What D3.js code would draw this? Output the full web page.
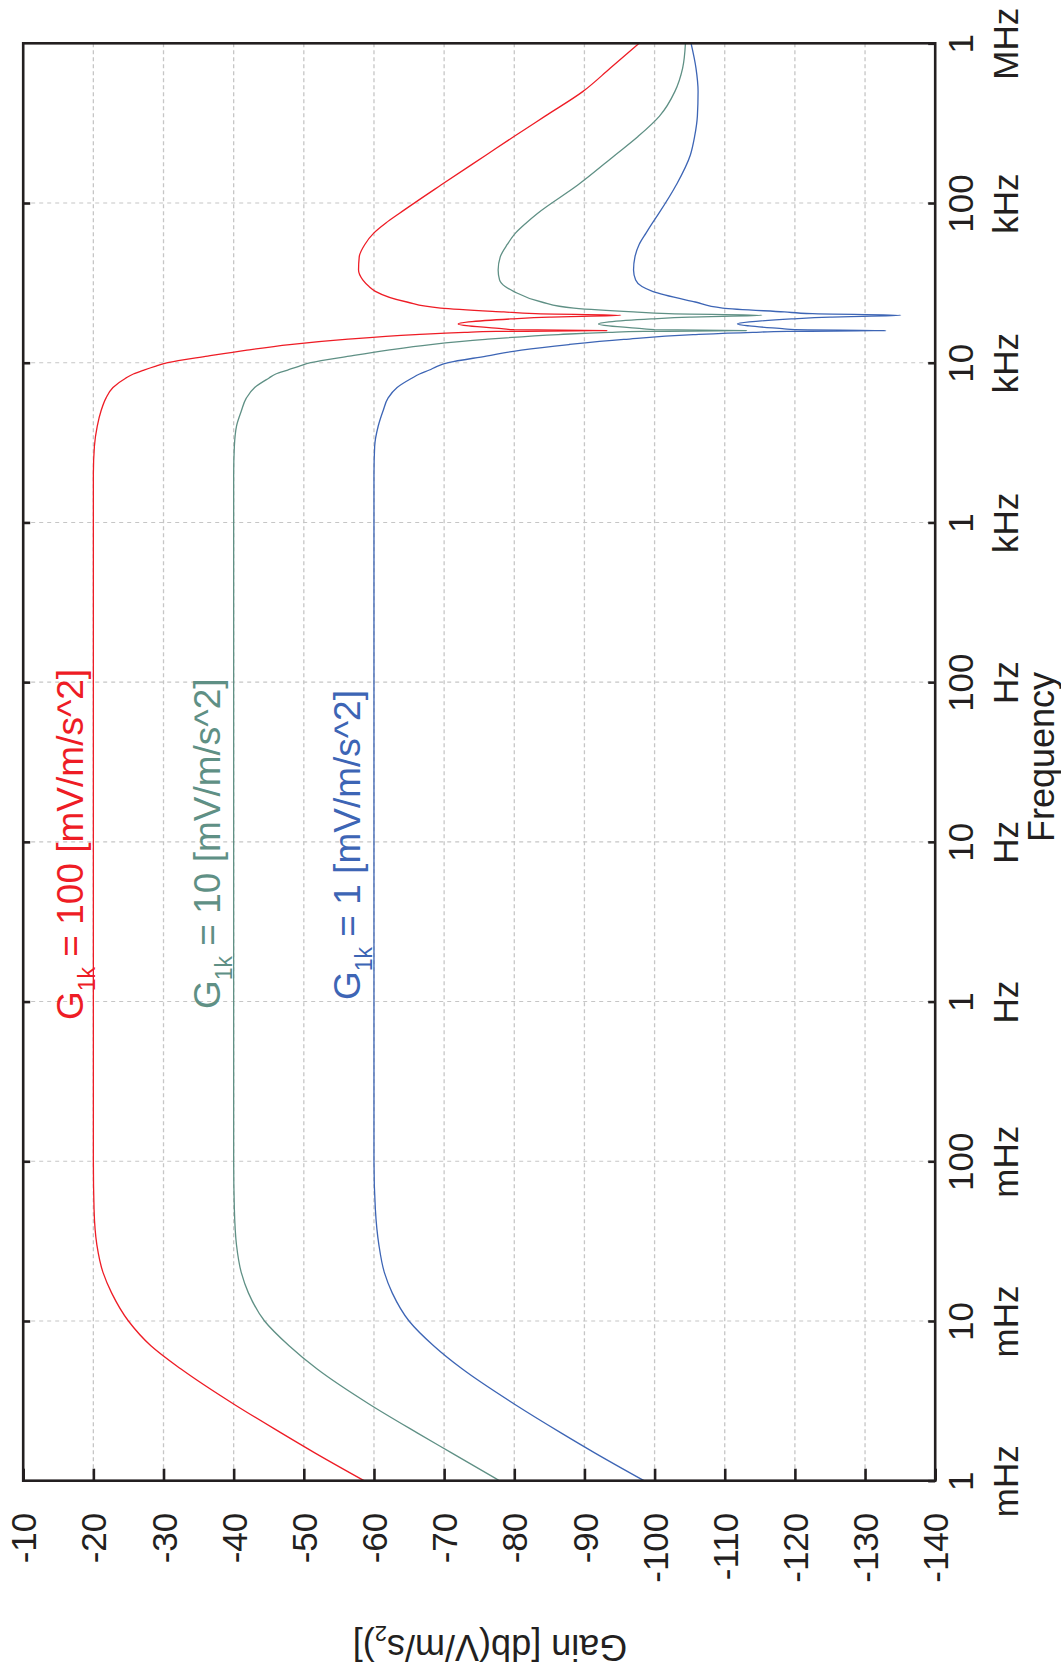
<!DOCTYPE html>
<html>
<head>
<meta charset="utf-8">
<script src="https://cdn.jsdelivr.net/npm/d3@7"></script>
<style>
body { margin: 0; background: #fff; }
svg { display: block; font-family: "Liberation Sans", Arial, Helvetica, sans-serif; }
</style>
</head>
<body>
<svg id="chart" width="1061" height="1669"></svg>
<script>
// frequency samples (Hz), shared by the three curves
const freqHz = [0.001, 0.0015, 0.002, 0.003, 0.005, 0.007, 0.01, 0.015, 0.02, 0.03, 0.05, 0.1,
    1, 10, 100, 1000, 2000, 3000, 4000, 5000, 6000, 7000, 8000, 8500, 9000, 9500, 10000,
    11000, 12000, 13000, 14000, 15000, 15500, 15700, 15900, 16100, 16300, 17000, 17500, 18000,
    18800, 19300, 19800, 20300, 20800, 22000, 24000, 28000, 30000, 33000, 38000, 46000, 55000,
    65000, 75000, 86000, 130000, 200000, 260000, 350000, 500000, 700000, 1000000];

// gain in dB(V/m/s^2)
const gain100 = [-58.6, -51.5, -46.7, -40.1, -32.5, -28.2, -25.0, -22.6, -21.4, -20.5, -20.1, -20,
    -20, -20, -20, -20, -20.0, -20.15, -20.55, -21.1, -21.8, -22.8, -24.6, -25.7, -27.2, -28.8, -30.6,
    -36.3, -41.9, -48.0, -55.9, -65.9, -72.9, -77.4, -93.2, -80, -78.5, -73.5, -72.0, -73.5,
    -79.5, -85, -95.2, -83, -78.5, -69.5, -64.7, -60.2, -59.3, -58.4, -57.8, -57.9, -58.7,
    -60.0, -61.7, -63.6, -69.6, -76.0, -79.9, -84.4, -89.8, -93.7, -97.8];
const gain10 = [-77.9, -71.0, -66.1, -59.4, -51.9, -47.9, -44.4, -42.1, -41.1, -40.4, -40.1, -40,
    -40, -40, -40, -40, -40.0, -40.1, -40.4, -41.1, -41.8, -43.0, -45.0, -46.0, -47.7, -49.3, -51.0,
    -56.5, -62.0, -68.1, -75.9, -86.3, -93.5, -98.5, -113.1, -100, -98.5, -93.5, -92.0, -93.5,
    -99.5, -105, -115.3, -102, -97, -88.5, -83.9, -79.9, -78.7, -77.9, -77.7, -78.0, -79.0,
    -80.2, -81.7, -83.3, -89.1, -94.4, -97.6, -100.7, -102.9, -104.0, -104.4];
const gain1 = [-98.5, -91.4, -86.6, -80.1, -72.6, -68.5, -65.0, -62.6, -61.5, -60.7, -60.2, -60,
    -60, -60, -60, -60, -60.0, -60.1, -60.6, -61.3, -62.0, -63.3, -65.4, -66.5, -67.9, -69.0, -70.6,
    -76, -81, -87.8, -95.6, -105.5, -114, -119, -133.0, -120, -118.5, -113.5, -111.8, -113.5,
    -119.5, -125, -135.1, -122.5, -118.5, -109.7, -105.8, -99.7, -98.2, -97.3, -97.0, -97.2, -97.8,
    -98.8, -99.7, -100.6, -103.1, -105.1, -105.7, -106.1, -106.2, -105.9, -105.2];

const seriesNames = ["100", "10", "1"];
const seriesColors = ["#ee1c25", "#5f9085", "#3d65b5"];

const gainTicks = [-10, -20, -30, -40, -50, -60, -70, -80, -90, -100, -110, -120, -130, -140];
const freqTicks = [1e-3, 1e-2, 1e-1, 1, 10, 100, 1e3, 1e4, 1e5, 1e6];
const freqTickNums = ["1", "10", "100", "1", "10", "100", "1", "10", "100", "1"];
const freqTickUnits = ["mHz", "mHz", "mHz", "Hz", "Hz", "Hz", "kHz", "kHz", "kHz", "MHz"];

const ink = "#231f20";
const plotLeft = 23.2, plotRight = 935.2, plotTop = 43.3, plotBottom = 1480.7;

const svg = d3.select("#chart");

// the figure is turned a quarter turn: gain runs across, frequency runs up
const x = d3.scaleLinear().domain([-10, -140]).range([plotLeft, plotRight]);
const y = d3.scaleLog().domain([1e-3, 1e6]).range([plotBottom, plotTop]);

// grid
svg.append("g")
    .selectAll("line")
    .data(gainTicks.slice(1, -1))
    .join("line")
    .attr("x1", d => x(d)).attr("x2", d => x(d))
    .attr("y1", plotTop).attr("y2", plotBottom)
    .attr("stroke", "#c6c6c6")
    .attr("stroke-width", 1.3)
    .attr("stroke-dasharray", "4,3");
svg.append("g")
    .selectAll("line")
    .data(freqTicks.slice(1, -1))
    .join("line")
    .attr("x1", plotLeft).attr("x2", plotRight)
    .attr("y1", d => y(d)).attr("y2", d => y(d))
    .attr("stroke", "#c6c6c6")
    .attr("stroke-width", 1.1)
    .attr("stroke-dasharray", "4,4");

// curves
const line = d3.line()
    .x(d => x(d[1]))
    .y(d => y(d[0]))
    .curve(d3.curveMonotoneY);

[gain100, gain10, gain1].forEach((g, k) => {
    svg.append("path")
        .datum(freqHz.map((f, i) => [f, g[i]]))
        .attr("fill", "none")
        .attr("stroke", seriesColors[k])
        .attr("stroke-width", 1.3)
        .attr("d", line);
});

// frame
svg.append("rect")
    .attr("x", plotLeft).attr("y", plotTop)
    .attr("width", plotRight - plotLeft).attr("height", plotBottom - plotTop)
    .attr("fill", "none")
    .attr("stroke", ink)
    .attr("stroke-width", 2.6);

// gain axis along the bottom
const gAxis = svg.append("g")
    .attr("transform", "translate(0," + plotBottom + ")")
    .call(d3.axisBottom(x).tickValues(gainTicks).tickSizeInner(-12).tickSizeOuter(0)
        .tickFormat(d => String(d)));
gAxis.select(".domain").remove();
gAxis.attr("font-family", null).attr("font-size", 35);
gAxis.selectAll(".tick line").attr("stroke", ink).attr("stroke-width", 2.6);
gAxis.selectAll(".tick text")
    .attr("fill", ink)
    .attr("x", 0).attr("y", 0)
    .attr("dy", "0.36em")
    .attr("text-anchor", "end")
    .attr("transform", "translate(0,32) rotate(-90)");

svg.append("text")
    .attr("transform", "translate(490,1635) rotate(180)")
    .attr("text-anchor", "middle")
    .attr("font-size", 36)
    .attr("fill", ink)
    .call(t => {
        t.append("tspan").text("Gain [db(V/m/s");
        t.append("tspan").attr("font-size", 22).attr("dy", 9).text("2");
        t.append("tspan").attr("dy", -9).text(")]");
    });

// frequency axis on the right, plain ticks on the left
const fAxis = svg.append("g")
    .attr("transform", "translate(" + plotRight + ",0)")
    .call(d3.axisRight(y).tickValues(freqTicks).tickSizeInner(-7).tickSizeOuter(0).tickFormat(""));
fAxis.select(".domain").remove();
fAxis.selectAll(".tick line").attr("stroke", ink).attr("stroke-width", 2.6);
fAxis.selectAll(".tick text").remove();
fAxis.attr("font-family", null).attr("font-size", 35);
fAxis.selectAll(".tick").each(function(d, i) {
    const t = d3.select(this);
    t.append("text")
        .attr("transform", "translate(38,0) rotate(-90)")
        .attr("text-anchor", "middle")
        .attr("fill", ink)
        .text(freqTickNums[i]);
    t.append("text")
        .attr("transform", "translate(83,0) rotate(-90)")
        .attr("text-anchor", "middle")
        .attr("fill", ink)
        .text(freqTickUnits[i]);
});

const lAxis = svg.append("g")
    .attr("transform", "translate(" + plotLeft + ",0)")
    .call(d3.axisLeft(y).tickValues(freqTicks.slice(1, -1)).tickSizeInner(-7).tickSizeOuter(0).tickFormat(""));
lAxis.select(".domain").remove();
lAxis.selectAll(".tick line").attr("stroke", ink).attr("stroke-width", 2.6);

svg.append("text")
    .attr("transform", "translate(1054,757) rotate(-90)")
    .attr("text-anchor", "middle")
    .attr("font-size", 36)
    .attr("fill", ink)
    .text("Frequency");

// series labels
const labelBase = [83, 220, 360];
const labelStart = [1020, 1009, 1000];
seriesNames.forEach((name, k) => {
    svg.append("text")
        .attr("transform", "translate(" + labelBase[k] + "," + labelStart[k] + ") rotate(-90)")
        .attr("font-size", 37)
        .attr("fill", seriesColors[k])
        .call(t => {
            t.append("tspan").text("G");
            t.append("tspan").attr("font-size", 23).attr("dy", 12).text("1k");
            t.append("tspan").attr("dy", -12).text(" = " + name + " [mV/m/s^2]");
        });
});
</script>
</body>
</html>
